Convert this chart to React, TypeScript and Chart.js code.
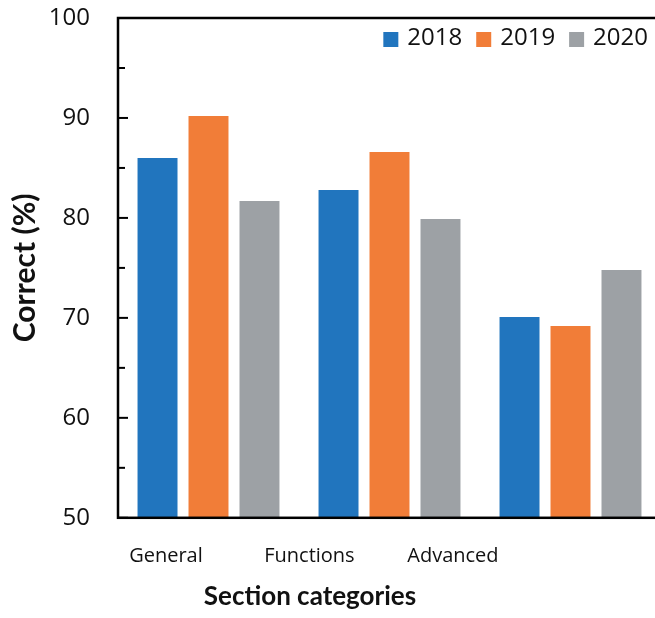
import React, { useEffect, useRef } from "react";
import { Chart, registerables } from "chart.js";

Chart.register(...registerables);

const categories = ["General", "Functions", "Advanced"];
const seriesNames = ["2018", "2019", "2020"];
const values2018 = [86.0, 82.8, 70.1];
const values2019 = [90.2, 86.6, 69.2];
const values2020 = [81.7, 79.9, 74.8];
const seriesColors = ["#2175BE", "#F17D38", "#9DA1A5"];
const yMin = 50;
const yMax = 100;
const yStep = 5;

const FONT = "'Open Sans', sans-serif";
const TITLE_FONT = "Lato, 'Open Sans', sans-serif";
const TEXT = "#111111";

const framePlugin = {
  id: "frameAndTicks",
  afterDraw(chart: any) {
    const { ctx, chartArea } = chart;
    const y = chart.scales.y;
    ctx.save();
    ctx.strokeStyle = "#000";
    ctx.lineWidth = 2;
    y.ticks.forEach((t: any) => {
      const py = y.getPixelForValue(t.value);
      const len = t.value % 10 === 0 ? 10 : 7;
      ctx.beginPath();
      ctx.moveTo(chartArea.left, py);
      ctx.lineTo(chartArea.left + len, py);
      ctx.stroke();
    });
    ctx.lineWidth = 2.5;
    ctx.strokeRect(chartArea.left, chartArea.top, chartArea.right - chartArea.left, chartArea.bottom - chartArea.top);
    ctx.restore();
  },
};

const insideLegend = {
  id: "insideLegend",
  afterDraw(chart: any) {
    const { ctx, chartArea } = chart;
    const ds = chart.data.datasets;
    ctx.save();
    ctx.font = `24px ${FONT}`;
    ctx.textBaseline = "middle";
    ctx.textAlign = "left";
    let x = chartArea.right - 13;
    const box = 15;
    for (let i = ds.length - 1; i >= 0; i--) {
      const label = ds[i].label;
      const w = ctx.measureText(label).width;
      const tl = x - w;
      ctx.fillStyle = TEXT;
      ctx.fillText(label, tl, chartArea.top + 20);
      const br = tl - 9;
      ctx.fillStyle = ds[i].backgroundColor;
      ctx.fillRect(br - box, chartArea.top + 14, box, box);
      x = br - box - 14;
    }
    ctx.restore();
  },
};

export default function App() {
  const ref = useRef<HTMLCanvasElement | null>(null);
  useEffect(() => {
    if (!ref.current) return;
    const series = [values2018, values2019, values2020];
    const chart = new Chart(ref.current, {
      type: "bar",
      data: {
        labels: categories,
        datasets: seriesNames.map((name, i) => ({
          label: name,
          data: series[i],
          backgroundColor: seriesColors[i],
          borderWidth: 0,
          categoryPercentage: 0.845,
          barPercentage: 0.784,
        })),
      },
      options: {
        animation: false,
        responsive: false,
        devicePixelRatio: 1,
        layout: { padding: { top: 18, left: 0, right: 0, bottom: 0 } },
        plugins: {
          legend: { display: false },
          tooltip: { enabled: false },
          title: {
            display: true,
            position: "bottom",
            text: "Section categories",
            color: TEXT,
            font: { family: TITLE_FONT, size: 26, weight: "bold" },
            padding: { top: 13, bottom: 6 },
          },
        },
        scales: {
          x: {
            type: "category",
            display: false,
            grid: { display: false },
          },
          x2: {
            type: "linear",
            position: "bottom",
            offset: false,
            min: -0.334,
            max: 3.45,
            afterBuildTicks: (scale: any) => {
              scale.ticks = categories.map((_, i) => ({ value: i }));
            },
            afterFit: (scale: any) => {
              scale.paddingLeft = 0;
              scale.paddingRight = 0;
              scale.height = 50;
            },
            grid: { display: false, drawTicks: false, tickLength: 0, offset: false },
            border: { display: false },
            ticks: {
              autoSkip: false,
              maxRotation: 0,
              padding: 26,
              color: TEXT,
              font: { family: FONT, size: 20 },
              callback: (v: any) => categories[Math.round(Number(v))] ?? "",
            },
          },
          y: {
            type: "linear",
            min: yMin,
            max: yMax,
            afterFit: (scale: any) => {
              scale.width = 159;
              scale.paddingTop = 0;
              scale.paddingBottom = 0;
            },
            grid: { display: false, drawTicks: false, tickLength: 0 },
            border: { display: false },
            ticks: {
              stepSize: yStep,
              autoSkip: false,
              padding: 28,
              color: TEXT,
              font: { family: FONT, size: 24 },
              callback: (v: any) => (Number(v) % 10 === 0 ? String(v) : ""),
            },
            title: {
              display: true,
              text: "Correct (%)",
              color: TEXT,
              font: { family: TITLE_FONT, size: 30, weight: "bold" },
              padding: { top: 48, bottom: 0 },
            },
          },
        },
      },
      plugins: [framePlugin, insideLegend],
    } as any);
    return () => chart.destroy();
  }, []);
  return (
    <div style={{ position: "fixed", left: 0, top: 0, width: 655, height: 618, overflow: "hidden", background: "#fff" }}>
      <div style={{ position: "absolute", left: -41, top: 0, width: 702, height: 618 }}>
        <canvas ref={ref} width={702} height={618} style={{ display: "block" }} />
      </div>
    </div>
  );
}
